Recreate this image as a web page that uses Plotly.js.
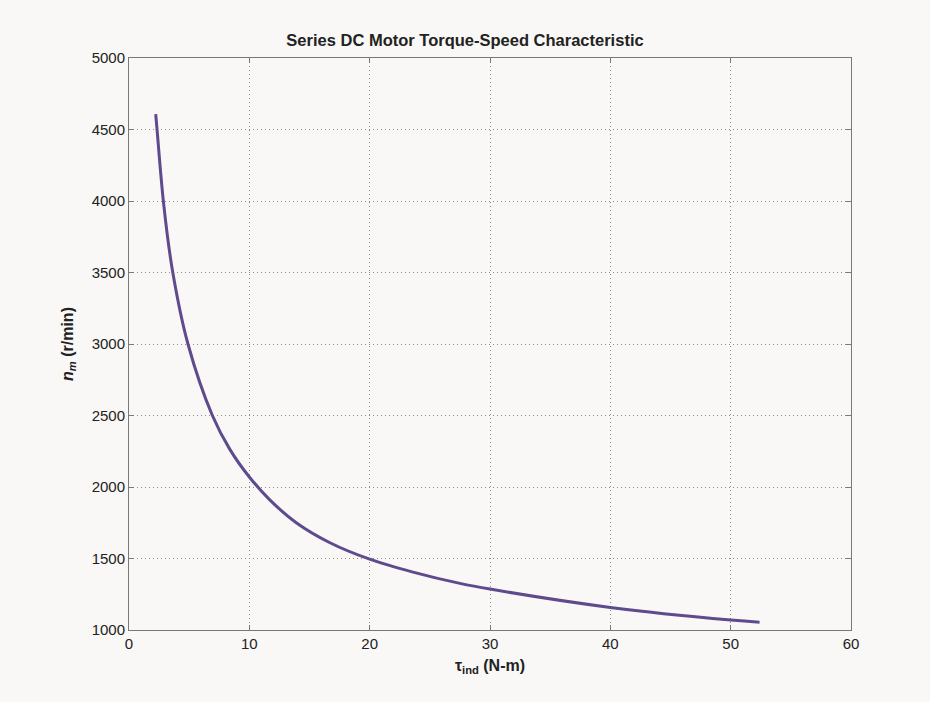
<!DOCTYPE html>
<html>
<head>
<meta charset="utf-8">
<script src="https://cdn.plot.ly/plotly-3.0.1.min.js"></script>
<style>html,body{margin:0;padding:0;background:#f9f8f6;}#chart{width:930px;height:702px;}</style>
</head>
<body>
<div id="chart"></div>
<script>
// Torque (N-m)
const torque = [2.22, 2.33, 2.88, 3.6, 4.9, 6.93, 8.37, 10, 11.7, 13.9, 16.7, 20, 23.6, 27.5, 30, 40, 50, 52.4];
// Speed (r/min)
const speed  = [4607, 4500, 3980, 3520, 3000, 2500, 2265, 2070, 1910, 1750, 1610, 1495, 1405, 1326, 1286, 1158, 1070, 1055];

const xTicks = [0, 10, 20, 30, 40, 50, 60];
const yTicks = [1000, 1500, 2000, 2500, 3000, 3500, 4000, 4500, 5000];

const font = "'Liberation Sans', Arial, Helvetica, sans-serif";

const trace = {
  x: torque, y: speed, type: 'scatter', mode: 'lines',
  line: {color: '#5e4a8c', width: 3, shape: 'spline', smoothing: 1},
  hoverinfo: 'skip'
};

const axisCommon = {
  showline: true, linecolor: '#7a7a7a', linewidth: 1, mirror: 'ticks',
  ticks: 'inside', ticklen: 5, tickcolor: '#7a7a7a',
  showgrid: true, gridcolor: '#8c8c8c', griddash: '1px,3px', gridwidth: 1,
  zeroline: false, tickfont: {family: font, size: 15, color: '#222'}
};

const layout = {
  width: 930, height: 702,
  paper_bgcolor: '#f9f8f6', plot_bgcolor: '#f9f8f6',
  margin: {l: 129, r: 79, t: 58, b: 72},
  showlegend: false,
  title: {text: '<b>Series DC Motor Torque-Speed Characteristic</b>', x: 0.5, xanchor: 'center', y: 1 - 40/702, yanchor: 'middle', font: {family: font, size: 16.5, color: '#222'}},
  xaxis: Object.assign({}, axisCommon, {
    range: [0, 60], tickvals: xTicks, ticktext: xTicks.map(String),
    title: {text: '<b>τ<sub>ind</sub> (N-m)</b>', standoff: 8, font: {family: font, size: 16, color: '#222'}}
  }),
  yaxis: Object.assign({}, axisCommon, {
    range: [1000, 5000], tickvals: yTicks, ticktext: yTicks.map(String),
    title: {text: '<b><i>n</i><sub><i>m</i></sub> (r/min)</b>', standoff: 14, font: {family: font, size: 16, color: '#222'}}
  })
};

Plotly.newPlot('chart', [trace], layout, {displayModeBar: false, staticPlot: true});
</script>
</body>
</html>
